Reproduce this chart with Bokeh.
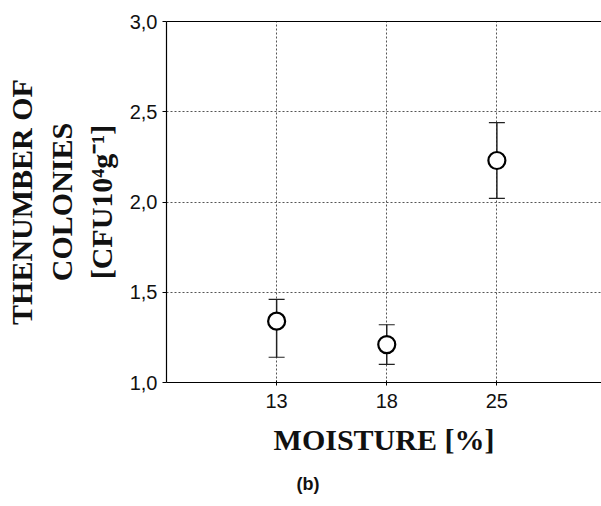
from bokeh.plotting import figure
from bokeh.models import (ColumnDataSource, Whisker, TeeHead, FixedTicker, Range1d,
                          LinearAxis, Title)
from bokeh.embed import file_html
from bokeh.resources import INLINE

# ---- data ----
moisture = ["13", "18", "25"]
positions = [1, 2, 3]
colonies = [1.34, 1.21, 2.23]
err_upper = [1.46, 1.32, 2.44]
err_lower = [1.14, 1.10, 2.02]
y_ticks = [1.0, 1.5, 2.0, 2.5, 3.0]
y_tick_labels = ["1,0", "1,5", "2,0", "2,5", "3,0"]

src = ColumnDataSource(dict(x=positions, y=colonies, upper=err_upper, lower=err_lower))

p = figure(width=601, height=506, output_backend="svg", toolbar_location=None,
           x_range=Range1d(0, 3.95), y_range=Range1d(1.0, 3.0),
           min_border_left=166, min_border_right=0, min_border_top=21, min_border_bottom=123)
p.outline_line_color = None
p.background_fill_color = "white"
p.border_fill_color = "white"

TICK_FONT = "Liberation Sans"
SERIF = "Liberation Serif"

# axes
p.xaxis.ticker = FixedTicker(ticks=positions)
p.xaxis.major_label_overrides = {pos: lab for pos, lab in zip(positions, moisture)}
p.yaxis.ticker = FixedTicker(ticks=y_ticks)
p.yaxis.major_label_overrides = {t: l for t, l in zip(y_ticks, y_tick_labels)}
for ax in (p.xaxis[0], p.yaxis[0]):
    ax.axis_line_color = "black"
    ax.axis_line_width = 1.2
    ax.major_tick_line_color = "black"
    ax.minor_tick_line_color = None
    ax.major_label_text_font = TICK_FONT
    ax.major_label_text_font_size = "20px"
    ax.major_label_text_color = "#111111"
    ax.axis_label_text_font = SERIF
    ax.axis_label_text_font_style = "bold"
    ax.axis_label_text_font_size = "30px"
    ax.axis_label_text_color = "#111111"
p.xaxis.major_tick_in = 2
p.xaxis.major_tick_out = 3
p.xaxis.major_label_standoff = 8
p.yaxis.major_tick_in = 0
p.yaxis.major_tick_out = 4
p.yaxis.major_label_standoff = 5

p.xaxis.axis_label = "MOISTURE [%]"
p.xaxis.axis_label_standoff = 12
p.yaxis.axis_label = "THENUMBER OF\nCOLONIES\n[CFU10\u2074g\u207b\u00b9]"
p.yaxis.axis_label_standoff = 9

top = LinearAxis(major_label_text_font_size="0px", major_tick_line_color=None,
                 minor_tick_line_color=None, axis_line_color="black", axis_line_width=1.2,
                 major_label_standoff=0, ticker=FixedTicker(ticks=[]))
p.add_layout(top, "above")

# grid
for g in (p.xgrid[0], p.ygrid[0]):
    g.grid_line_color = "#555555"
    g.grid_line_dash = "2 2"
    g.grid_line_width = 1

# error bars
w = Whisker(source=src, base="x", upper="upper", lower="lower", dimension="height",
            line_color="#222222", line_width=1.5,
            upper_head=TeeHead(size=16, line_color="#222222", line_width=1.2),
            lower_head=TeeHead(size=16, line_color="#222222", line_width=1.2))
p.add_layout(w)

p.scatter("x", "y", source=src, size=17, marker="circle", fill_color="white",
          line_color="black", line_width=2.2)

# panel caption
cap = Title(text="(b)", align="left", offset=130, text_font=TICK_FONT,
            text_font_size="18px", text_font_style="bold", text_color="#111111",
            standoff=26)
p.add_layout(cap, "below")

open("out.html", "w").write(file_html(p, INLINE))
